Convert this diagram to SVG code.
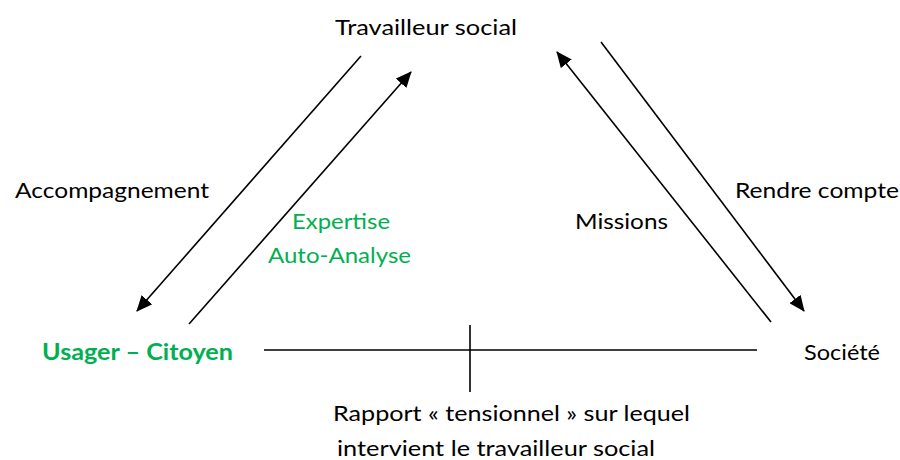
<svg xmlns="http://www.w3.org/2000/svg" width="900" height="460" viewBox="0 0 900 460">
<style>
text{font-family:Lato,"Open Sans","Liberation Sans",sans-serif;font-size:22px;fill:#000}
.g{fill:#00B050}
.b{font-weight:bold}
.c line{stroke:#000;stroke-width:1.6;fill:none}
</style>
<defs>
<marker id="ah" viewBox="0 0 16 14" refX="15" refY="7" markerWidth="16" markerHeight="14" markerUnits="userSpaceOnUse" orient="auto">
<path d="M0,0 L16,7 L0,14 Z" fill="#000"/>
</marker>
</defs>
<rect width="900" height="460" fill="#fff"/>
<g id="travailleur"><text x="426" y="35" text-anchor="middle" textLength="182" lengthAdjust="spacingAndGlyphs">Travailleur social</text></g>
<g id="usager"><text x="42" y="360" class="g b" textLength="191" lengthAdjust="spacingAndGlyphs">Usager – Citoyen</text></g>
<g id="societe"><text x="804" y="360" textLength="76" lengthAdjust="spacingAndGlyphs">Société</text></g>
<g id="labels">
<text x="15" y="198" textLength="194" lengthAdjust="spacingAndGlyphs">Accompagnement</text>
<text x="292" y="229" class="g" textLength="98" lengthAdjust="spacingAndGlyphs">Expertise</text>
<text x="268" y="263" class="g" textLength="143" lengthAdjust="spacingAndGlyphs">Auto-Analyse</text>
<text x="575" y="229" textLength="93" lengthAdjust="spacingAndGlyphs">Missions</text>
<text x="735" y="198" textLength="164" lengthAdjust="spacingAndGlyphs">Rendre compte</text>
<text x="333" y="421" textLength="357" lengthAdjust="spacingAndGlyphs">Rapport « tensionnel » sur lequel</text>
<text x="337" y="456" textLength="318" lengthAdjust="spacingAndGlyphs">intervient le travailleur social</text>
</g>
<g id="connectors" class="c">
<line x1="361" y1="56" x2="137" y2="311" marker-end="url(#ah)"/>
<line x1="189" y1="324" x2="411" y2="72" marker-end="url(#ah)"/>
<line x1="771" y1="322" x2="557" y2="52" marker-end="url(#ah)"/>
<line x1="601" y1="42" x2="804" y2="311" marker-end="url(#ah)"/>
<line x1="264" y1="350" x2="757" y2="350"/>
<line x1="470" y1="325" x2="470" y2="392"/>
</g>
</svg>
